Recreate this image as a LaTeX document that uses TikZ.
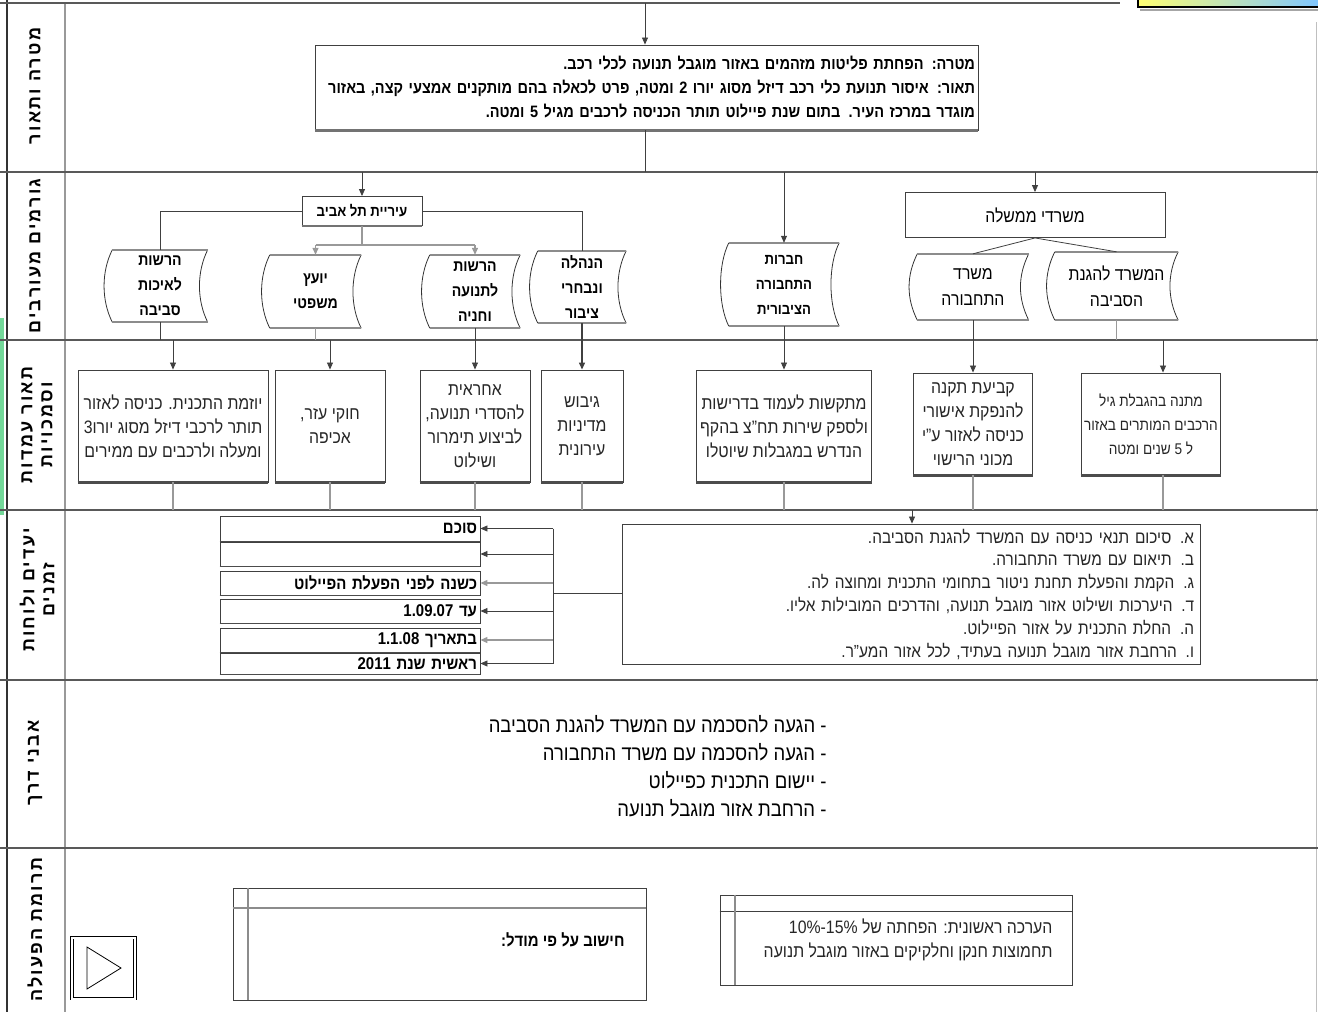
\documentclass[tikz,border=0pt]{standalone}
\usepackage{fontspec}
\setmainfont{Liberation Sans}[Script=Hebrew,FakeStretch=0.88]
\newfontfamily\lblfont{Liberation Sans}[Script=Hebrew,LetterSpace=12]
\TeXXeTstate=1
\usetikzlibrary{arrows.meta,calc}
\newcommand\hbr[1]{\beginR #1\endR}
\newcommand\ltr[1]{\beginL #1\endL{}}
\newcommand\fs[2]{\fontsize{#1}{#2}\selectfont}
\begin{document}
\begin{tikzpicture}[x=1pt,y=-1pt,
  rowln/.style={draw=black!65, line width=1.6pt},
  conn/.style={draw=black!75, line width=0.8pt},
  lconn/.style={draw=black!40, line width=1.3pt},
  arr/.style={conn,-{Triangle[length=7pt,width=6pt]}},
  larr/.style={lconn,-{Triangle[length=7pt,width=6pt]}},
  lbl/.style={rotate=90, font=\lblfont\bfseries\fs{18}{20}, align=center},
  pbox/.style={draw=black!75, line width=0.9pt, fill=white, inner sep=3pt},
  tape/.style={inner sep=0pt, align=center, font=\fs{16}{25}\bfseries},
  shadowln/.style={draw=black!70, line width=2.5pt},
  tapeedge/.style={draw=black!45, line width=2.5pt},
  tapeside/.style={draw=black!80, line width=0.8pt},
  txt/.style={font=\fs{18}{24}, text=black!85},
]
\useasboundingbox (0,0) rectangle (1318,1012);
% frame
\fill[green!45!teal!55] (0,318) rectangle (4,515);
\draw[black!80, line width=2.5pt] (7,0) -- (7,1012);
\draw[black!40, line width=1.5pt] (65,3) -- (65,1012);
\draw[black!25, line width=1pt] (1316,22) -- (1316,1012);
\draw[rowln] (0,3) -- (1120,3);
\coordinate (r1) at (0,172);
\coordinate (r2) at (0,340);
\coordinate (r3) at (0,510);
\coordinate (r4) at (0,680);
\coordinate (r5) at (0,848);
\foreach \r in {r1,r2,r3,r4,r5} \draw[rowln] (\r) -- ++(1318,0);
% top right gradient box
\shade[left color=yellow!55, right color=blue!45!cyan!50] (1138,-2) rectangle (1318,7);
\draw[black!35, line width=2pt] (1140,10) -- (1318,10);
\draw[black, line width=2.5pt] (1138,-2) -- (1138,7) -- (1318,7);
% row labels
\node[lbl] (l1) at (35,86) {\hbr{מטרה ותאור}};
\node[lbl] (l2) at (35,256) {\hbr{גורמים מעורבים}};
\node[lbl] (l3) at (37,425) {\hbr{תאור עמדות}\\\hbr{וסמכויות}};
\node[lbl] (l4) at (37,590) {\hbr{יעדים ולוחות}\\\hbr{זמנים}};
\node[lbl] (l5) at (35,763) {\hbr{אבני דרך}};
\node[lbl] (l6) at (35,930) {\hbr{תרומת הפעולה}};
% row 1
\coordinate (top1) at (645,3);
\node[pbox, minimum width=663, minimum height=85, text width=657, inner sep=2pt, align=right, font=\fs{16.5}{24}\bfseries] (goal) at (646.5,87.5)
 {\hbr{מטרה: הפחתת פליטות מזהמים באזור מוגבל תנועה לכלי רכב.}\\
  \hbr{תאור: איסור תנועת כלי רכב דיזל מסוג יורו 2 ומטה, פרט לכאלה בהם מותקנים אמצעי קצה, באזור}\\
  \hbr{מוגדר במרכז העיר. בתום שנת פיילוט תותר הכניסה לרכבים מגיל 5 ומטה.}};
\draw[shadowln, black!55] (goal.south west) -- (goal.south east);
\draw[arr] (top1) -- (goal.north -| top1);
\draw[conn] (goal.south -| top1) -- (r1 -| top1);
% row 2
\node[pbox, minimum width=120, minimum height=29, font=\fs{15}{18}\bfseries] (city) at (362,211) {\hbr{עיריית תל אביב}};
\draw[shadowln, black!55] (city.south west) -- (city.south east);
\node[pbox, minimum width=260, minimum height=45, font=\fs{18}{20}] (gov) at (1035,215) {\hbr{משרדי ממשלה}};
\node[tape, minimum width=95, minimum height=72] (t1) at (160,286) {\hbr{הרשות}\\\hbr{לאיכות}\\\hbr{סביבה}};
\node[tape, minimum width=91, minimum height=73] (t2) at (315.5,291.5) {\hbr{יועץ}\\\hbr{משפטי}};
\node[tape, minimum width=90, minimum height=73] (t3) at (475,291.5) {\hbr{הרשות}\\\hbr{לתנועה}\\\hbr{וחניה}};
\node[tape, minimum width=88, minimum height=72] (t4) at (582,287) {\hbr{הנהלה}\\\hbr{ונבחרי}\\\hbr{ציבור}};
\node[tape, minimum width=110, minimum height=83, font=\fs{15}{25}\bfseries] (t5) at (784,284.5) {\hbr{חברות}\\\hbr{התחבורה}\\\hbr{הציבורית}};
\node[tape, minimum width=111, minimum height=66, font=\fs{18}{26}] (t6) at (973,287) {\hbr{משרד}\\\hbr{התחבורה}};
\node[tape, minimum width=123, minimum height=68, font=\fs{18}{26}] (t7) at (1116.5,286) {\hbr{המשרד להגנת}\\\hbr{הסביבה}};
\foreach \n in {t1,t2,t3,t4,t5,t6,t7}{
  \draw[tapeside] (\n.north west) .. controls ($(\n.north west)+(-11,22)$) and ($(\n.south west)+(-11,-22)$) .. (\n.south west);
  \draw[tapeside] (\n.north east) .. controls ($(\n.north east)+(-11,22)$) and ($(\n.south east)+(-11,-22)$) .. (\n.south east);
  \draw[tapeedge] (\n.north west) -- (\n.north east);
  \draw[tapeedge] (\n.south west) -- (\n.south east);
}
\draw[arr] (r1 -| city.north) -- (city.north);
\draw[arr] (r1 -| t5.north) -- (t5.north);
\draw[arr] (r1 -| gov.north) -- (gov.north);
\draw[conn] (city.west) -| (t1.north);
\draw[conn] (city.east) -| (t4.north);
\coordinate (j1) at (362,245);
\draw[lconn] (city.south) -- (j1);
\draw[lconn] (j1 -| t2.north) -- (j1 -| t3.north);
\draw[larr] (j1 -| t2.north) -- (t2.north);
\draw[larr] (j1 -| t3.north) -- (t3.north);
\draw[conn] (gov.south) -- (t6.north);
\draw[conn] (gov.south) -- (t7.north);
% row 3
\node[pbox, minimum width=190, minimum height=112, txt, align=center] (b1) at (173,426) {\hbr{יוזמת התכנית. כניסה לאזור}\\\hbr{תותר  לרכבי דיזל מסוג יורו3}\\\hbr{ומעלה ולרכבים עם ממירים}};
\node[pbox, minimum width=110, minimum height=112, txt, align=center] (b2) at (330,426) {\hbr{חוקי עזר,}\\\hbr{אכיפה}};
\node[pbox, minimum width=110, minimum height=112, txt, align=center] (b3) at (475,426) {\hbr{אחראית}\\\hbr{להסדרי תנועה,}\\\hbr{לביצוע תימרור}\\\hbr{ושילוט}};
\node[pbox, minimum width=82, minimum height=112, txt, align=center] (b4) at (582,426) {\hbr{גיבוש}\\\hbr{מדיניות}\\\hbr{עירונית}};
\node[pbox, minimum width=175, minimum height=112, txt, align=center] (b5) at (784,426) {\hbr{מתקשות לעמוד בדרישות}\\\hbr{ולספק שירות תח"צ בהקף}\\\hbr{הנדרש במגבלות שיוטלו}};
\node[pbox, minimum width=119, minimum height=102, txt, align=center] (b6) at (973,424) {\hbr{קביעת תקנה}\\\hbr{להנפקת אישורי}\\\hbr{כניסה לאזור ע"י}\\\hbr{מכוני הרישוי}};
\node[pbox, minimum width=138, minimum height=102, txt, font=\fs{15.5}{24}, align=center] (b7) at (1151,424) {\hbr{מתנה בהגבלת גיל}\\\hbr{הרכבים המותרים באזור}\\\hbr{ל 5 שנים ומטה}};
\foreach \n in {b1,b2,b3,b4,b5,b6,b7}
  \draw[shadowln] (\n.south west) -- (\n.south east);
\draw[conn] (t1.south) -- (r2 -| t1.south);
\draw[arr] (r2 -| b1.north) -- (b1.north);
\draw[lconn] (t2.south) -- (r2 -| t2.south);
\draw[arr] (r2 -| b2.north) -- (b2.north);
\draw[arr] (t3.south) -- (b3.north);
\draw[arr, line width=1.3pt] (t4.south) -- (b4.north);
\draw[arr] (t5.south) -- (b5.north);
\draw[arr] (t6.south) -- (b6.north);
\draw[lconn] (t7.south) -- (r2 -| t7.south);
\coordinate (b7in) at ($(b7.north)+(12,0)$);
\draw[arr] (r2 -| b7in) -- (b7in);
\foreach \n in {b1,b2,b3,b4,b5,b6}
  \draw[lconn] (\n.south) -- (r3 -| \n.south);
\draw[lconn] ($(b7.south)+(12,0)$) -- (r3 -| b7in);
% row 4
\node[pbox, minimum width=578, minimum height=140, text width=566, align=right, font=\fs{17.5}{22.8}, text=black!85, inner sep=4pt] (list) at (911,594)
 {\hbr{א. סיכום תנאי כניסה עם המשרד להגנת הסביבה.}\\
  \hbr{ב. תיאום עם משרד התחבורה.}\\
  \hbr{ג. הקמת והפעלת תחנת ניטור בתחומי התכנית ומחוצה לה.}\\
  \hbr{ד. היערכות ושילוט אזור מוגבל תנועה, והדרכים המובילות אליו.}\\
  \hbr{ה. החלת התכנית על אזור הפיילוט.}\\
  \hbr{ו. הרחבת אזור מוגבל תנועה בעתיד, לכל אזור המע"ר.}};
\coordinate (listin) at (912,510);
\draw[arr] (listin) -- (list.north -| listin);
\tikzset{sbox/.style={pbox, minimum width=260, inner sep=1pt, text width=254, align=right, font=\fs{17}{18}\bfseries}}
\node[sbox, minimum height=25] (s1) at (350,528.5) {\hbr{סוכם}};
\node[sbox, minimum height=24] (s2) at (350,554) {};
\node[sbox, minimum height=24] (s3) at (350,583) {\hbr{כשנה לפני הפעלת הפיילוט}};
\node[sbox, minimum height=24] (s4) at (350,611) {\hbr{עד \ltr{1.09.07}}};
\node[sbox, minimum height=24] (s5) at (350,640) {\hbr{בתאריך \ltr{1.1.08}}};
\node[sbox, minimum height=21] (s6) at (350,663.5) {\hbr{ראשית שנת \ltr{2011}}};
\foreach \n in {s1,s2,s3,s4,s5,s6}
  \draw[black!70, line width=1.8pt] (\n.south west) -- (\n.south east);
\coordinate (brk) at (553,593);
\draw[conn] (list.west |- brk) -- (brk);
\draw[conn] (brk |- s1.east) -- (brk |- s6.east);
\foreach \n in {s1,s2,s4,s6}
  \draw[arr] (brk |- \n.east) -- (\n.east);
\foreach \n in {s3,s5}
  \draw[larr] (brk |- \n.east) -- (\n.east);
% row 5
\node[anchor=east, align=right, font=\fs{21}{28}] (mile) at (830,766)
 {\hbr{- הגעה להסכמה עם המשרד להגנת הסביבה}\\
  \hbr{- הגעה להסכמה עם משרד התחבורה}\\
  \hbr{- יישום התכנית כפיילוט}\\
  \hbr{- הרחבת אזור מוגבל תנועה}};
% row 6
\node[draw=black, double, double distance=2pt, line width=0.9pt, minimum width=63, minimum height=61] (play) at (103.5,968) {};
\draw[black, line width=0.8pt] (87,947) -- (121,968) -- (87,989) -- cycle;
\node[pbox, minimum width=413, minimum height=112] (ca) at (439.5,944) {};
\draw[black!45, line width=2pt] (ca.north west |- 0,908) -- (ca.north east |- 0,908);
\draw[black!45, line width=1.5pt] (248,0 |- ca.north) -- (248,0 |- ca.south);
\node[anchor=east, font=\fs{17}{18}\bfseries] (cat) at (628,940) {\hbr{חישוב על פי מודל:}};
\node[pbox, minimum width=352, minimum height=90] (cb) at (896,940) {};
\draw[black!75, line width=1pt] (cb.north west |- 0,911) -- (cb.north east |- 0,911);
\draw[black!45, line width=1.5pt] (735,0 |- cb.north) -- (735,0 |- cb.south);
\node[anchor=east, align=right, font=\fs{18}{24}, text=black!85] (cbt) at (1056,940)
 {\hbr{הערכה ראשונית: הפחתה של  \ltr{\mbox{10\%}\mbox{-}\mbox{15\%}}}\\
  \hbr{תחמוצות חנקן וחלקיקים באזור מוגבל תנועה}};
\end{tikzpicture}
\end{document}
